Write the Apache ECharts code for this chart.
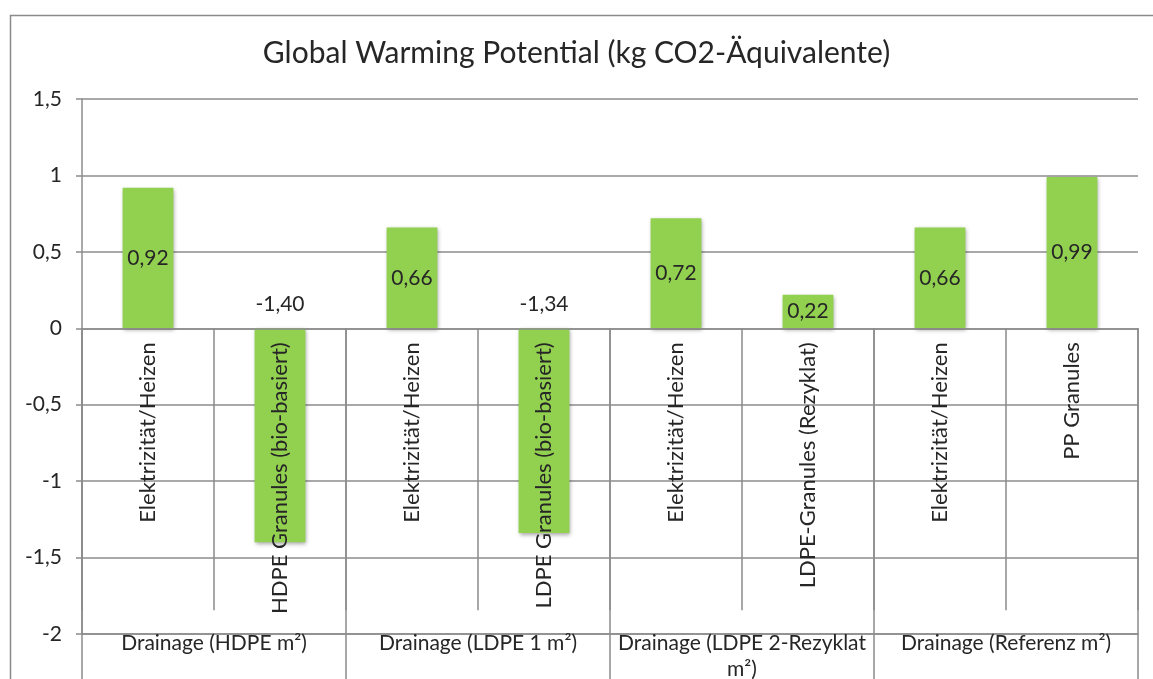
<!DOCTYPE html>
<html>
<head>
<meta charset="utf-8">
<title>Global Warming Potential</title>
<script src="https://cdn.jsdelivr.net/npm/echarts@6/dist/echarts.min.js"></script>
<style>
  html, body { margin: 0; padding: 0; background: #fff; }
  #chart { width: 1153px; height: 679px; }
</style>
</head>
<body>
<div id="chart"></div>
<script>
// Process steps (inner category level) and the drainage variants they belong to
const stepLabels = [
  'Elektrizität/Heizen', 'HDPE Granules (bio-basiert)',
  'Elektrizität/Heizen', 'LDPE Granules (bio-basiert)',
  'Elektrizität/Heizen', 'LDPE-Granules (Rezyklat)',
  'Elektrizität/Heizen', 'PP Granules'
];
const groupLabels = [
  'Drainage (HDPE m²)',
  'Drainage (LDPE 1 m²)',
  'Drainage (LDPE 2-Rezyklat\nm²)',
  'Drainage (Referenz m²)'
];
// kg CO2-Äquivalente per step
const gwpValues = [0.92, -1.40, 0.66, -1.34, 0.72, 0.22, 0.66, 0.99];
// Value axis range and step
const yMin = -2;
const yMax = 1.5;
const yStep = 0.5;

const FONT = 'Lato, "Open Sans", sans-serif';
const GRID_COLOR = '#8c8c8c';
const TEXT_COLOR = '#262626';

// Plot box in pixels
const GRID_TOP = 99;
const GRID_BOTTOM = 45;
const CHART_H = 679;
const plotH = CHART_H - GRID_TOP - GRID_BOTTOM;
// distance from the bottom edge of the plot up to the zero line
const zeroLift = plotH * (0 - yMin) / (yMax - yMin);

const chart = echarts.init(document.getElementById('chart'), null, { renderer: 'canvas' });

const decimalComma = (v, digits) =>
  (digits == null ? String(v) : v.toFixed(digits)).replace('.', ',');

const option = {
  backgroundColor: '#ffffff',
  animation: false,
  title: {
    text: 'Global Warming Potential (kg CO2-Äquivalente)',
    left: 'center',
    top: 33,
    textStyle: { fontFamily: FONT, fontSize: 30, fontWeight: 'normal', color: TEXT_COLOR }
  },
  graphic: [{
    type: 'rect',
    left: 8, top: 13,
    shape: { width: 1200, height: 720 },
    style: { fill: 'none', stroke: '#8a8a8a', lineWidth: 1.5 },
    silent: true
  }],
  grid: { left: 82, right: 15, top: GRID_TOP, bottom: GRID_BOTTOM, containLabel: false, outerBoundsMode: 'none' },
  xAxis: [
    {
      // inner level: step names, hanging from the zero line
      type: 'category',
      data: stepLabels,
      position: 'bottom',
      offset: -zeroLift,
      z: 5,
      axisLine: { show: true, onZero: false, lineStyle: { color: GRID_COLOR, width: 1.5 } },
      axisTick: { show: true, interval: 0, inside: false, length: 282,
                  lineStyle: { color: GRID_COLOR, width: 1.5 } },
      axisLabel: {
        interval: 0, rotate: 90, margin: 14,
        fontFamily: FONT, fontSize: 22, color: TEXT_COLOR
      },
      splitLine: { show: false }
    },
    {
      // outer level: drainage variants along the bottom
      type: 'category',
      data: groupLabels,
      position: 'bottom',
      offset: 0,
      axisLine: { show: true, onZero: false, lineStyle: { color: GRID_COLOR, width: 1.5 } },
      axisTick: { show: true, interval: 0, inside: true, length: zeroLift,
                  lineStyle: { color: GRID_COLOR, width: 1.5 } },
      axisLabel: {
        interval: 0, margin: -4, lineHeight: 26,
        fontFamily: FONT, fontSize: 21, color: TEXT_COLOR
      },
      splitLine: { show: false }
    },
    {
      // group separators continuing below the plot
      type: 'category',
      data: groupLabels,
      position: 'bottom',
      offset: 0,
      axisLine: { show: false, onZero: false },
      axisTick: { show: true, interval: 0, inside: false, length: 60,
                  lineStyle: { color: GRID_COLOR, width: 1.5 } },
      axisLabel: { show: false },
      splitLine: { show: false }
    }
  ],
  yAxis: {
    type: 'value',
    min: yMin, max: yMax, interval: yStep,
    axisLine: { show: true, lineStyle: { color: GRID_COLOR, width: 1.5 } },
    axisTick: { show: true, length: 6, lineStyle: { color: GRID_COLOR, width: 1.5 } },
    axisLabel: {
      margin: 20,
      fontFamily: FONT, fontSize: 21, color: TEXT_COLOR,
      formatter: v => decimalComma(Math.round(v * 10) / 10)
    },
    splitLine: { show: true, lineStyle: { color: GRID_COLOR, width: 1.5 } }
  },
  series: [{
    type: 'bar',
    xAxisIndex: 0,
    data: gwpValues.map(v => ({
      value: v,
      label: { position: v >= 0 ? 'inside' : 'top' }
    })),
    barWidth: '38.5%',
    z: 2,
    itemStyle: {
      color: '#92d050',
      shadowColor: 'rgba(0,0,0,0.35)',
      shadowBlur: 4,
      shadowOffsetX: 1,
      shadowOffsetY: 2
    },
    label: {
      show: true,
      distance: 14,
      fontFamily: FONT, fontSize: 21, color: TEXT_COLOR,
      formatter: p => decimalComma(p.value, 2)
    }
  }]
};

chart.setOption(option);
</script>
</body>
</html>
